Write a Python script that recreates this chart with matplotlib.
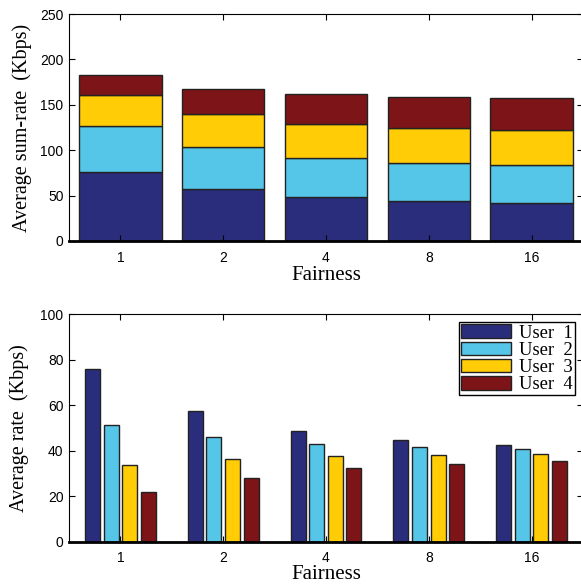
import matplotlib
matplotlib.use("Agg")
import matplotlib.pyplot as plt
import numpy as np

categories = ["1", "2", "4", "8", "16"]
user1 = [75.9, 57.2, 48.7, 44.6, 42.4]
user2 = [51.2, 46.1, 42.9, 41.4, 40.8]
user3 = [33.5, 36.3, 37.6, 38.2, 38.5]
user4 = [21.7, 27.9, 32.2, 34.2, 35.4]
series_labels = ["User  1", "User  2", "User  3", "User  4"]
colors = ["#2A2D7C", "#55C6E8", "#FFCC06", "#7D1518"]

series = [user1, user2, user3, user4]
x = np.arange(1, len(categories) + 1)

W, H = 581, 584
fig = plt.figure(figsize=(W / 100, H / 100), dpi=100)

serif = ["Liberation Serif", "DejaVu Serif"]
sans = ["Liberation Sans", "DejaVu Sans"]

def style(ax, ymax, yticks):
    ax.set_xlim(0.5, 5.5)
    ax.set_ylim(0, ymax)
    ax.set_xticks(x)
    ax.set_xticklabels(categories, fontfamily=sans, fontsize=10)
    ax.set_yticks(yticks)
    ax.set_yticklabels([str(t) for t in yticks], fontfamily=sans, fontsize=10)
    ax.tick_params(direction="in", length=4, width=0.8, top=True, right=True, pad=4)
    ax.tick_params(axis="x", pad=7)
    for s in ax.spines.values():
        s.set_linewidth(0.8)
    ax.spines["bottom"].set_linewidth(2.0)

# Top: stacked
ax1 = fig.add_axes([69 / W, 1 - 241 / H, (583 - 69) / W, (241 - 14) / H])
bottom = np.zeros(len(categories))
for vals, c in zip(series, colors):
    ax1.bar(x, vals, width=0.8, bottom=bottom, color=c, edgecolor="#222222", linewidth=1.0)
    bottom = bottom + np.array(vals)
style(ax1, 250, [0, 50, 100, 150, 200, 250])
ax1.set_xlabel("Fairness", fontfamily=serif, fontsize=15, labelpad=1)
ax1.set_ylabel("Average sum-rate  (Kbps)", fontfamily=serif, fontsize=14.5, labelpad=6)

# Bottom: grouped
ax2 = fig.add_axes([69 / W, 1 - 541.7 / H, (583 - 69) / W, (541.7 - 314) / H])
offsets = [-0.272, -0.09, 0.09, 0.272]
handles = []
for vals, c, off, lab in zip(series, colors, offsets, series_labels):
    h = ax2.bar(x + off, vals, width=0.146, color=c, edgecolor="#222222", linewidth=1.0, label=lab)
    handles.append(h)
style(ax2, 100, [0, 20, 40, 60, 80, 100])
ax2.set_xlabel("Fairness", fontfamily=serif, fontsize=15, labelpad=0)
ax2.set_ylabel("Average rate  (Kbps)", fontfamily=serif, fontsize=14.5, labelpad=8)
leg = ax2.legend(handles=handles, loc="upper right", prop={"family": serif, "size": 13.4},
                 frameon=True, fancybox=False, edgecolor="black", framealpha=1,
                 borderpad=0.1, labelspacing=0.0, handlelength=2.65, handleheight=0.75,
                 handletextpad=0.45, borderaxespad=0.45)
leg.get_frame().set_linewidth(1.0)

fig.savefig("out.png", dpi=100)
